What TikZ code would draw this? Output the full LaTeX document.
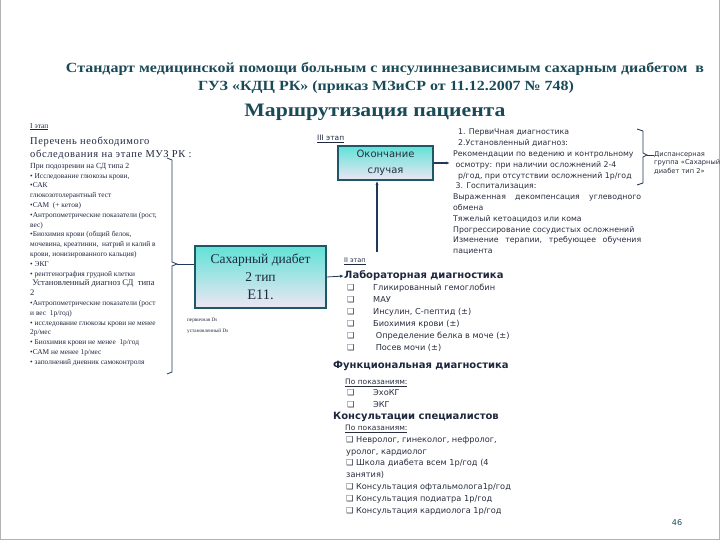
\documentclass[tikz,border=0pt]{standalone}
\usepackage{fontspec}
\setmainfont{Liberation Serif}
\newfontfamily\ttlfont[FakeStretch=1.14]{Liberation Serif}
\newfontfamily\vsans{DejaVu Sans}
\usetikzlibrary{positioning}
\usetikzlibrary{arrows.meta}

\definecolor{ttlteal}{RGB}{26,74,88}
\definecolor{inknavy}{RGB}{30,40,62}
\definecolor{inkgray}{RGB}{40,46,62}
\definecolor{linenavy}{RGB}{30,56,86}
\definecolor{boxtop}{RGB}{96,226,214}
\definecolor{boxmid}{RGB}{132,196,244}
\definecolor{boxbot}{RGB}{238,230,244}
\definecolor{boxedge}{RGB}{30,88,104}
\newcommand{\chkbox}{{\vsans ❑}}

\begin{document}
\begin{tikzpicture}[x=1pt, y=-1pt,
  ttl/.style = {text=ttlteal, inner sep=0, font=\ttlfont\bfseries\fontsize{14}{16}\selectfont},
  casebox/.style = {draw=boxedge, line width=1.6pt, top color=boxtop, middle color=boxmid, bottom color=boxbot, align=center, text=inknavy},
  plain/.style = {inner sep=0, anchor=north west, align=left, text=inknavy},
  hdr/.style = {inner sep=0, anchor=west, text=inknavy, font=\vsans\bfseries\fontsize{10}{12}\selectfont},
  stagelbl/.style = {inner sep=0, anchor=west, text=inknavy, font=\vsans\fontsize{6.5}{8}\selectfont},
  items/.style = {plain, text=inkgray, font=\vsans\fontsize{8.2}{11.9}\selectfont},
  conn/.style = {draw=linenavy, line width=0.8pt}]
\useasboundingbox (0,0) rectangle (720,540);
\draw[gray!60, line width=1pt] (0.5,0) -- (0.5,539.5) -- (719.5,539.5) -- (719.5,0);

% title
\node[ttl] (ttlA) at (385,69) {Стандарт медицинской помощи больным с инсулиннезависимым сахарным диабетом \ в};
\node[ttl] (ttlB) at (386,87) {ГУЗ «КДЦ РК» (приказ МЗиСР от 11.12.2007 № 748)};
\node[ttl, font=\ttlfont\bfseries\fontsize{19}{22}\selectfont] (route) at (375,112) {Маршрутизация пациента};

% I stage
\node[plain, font=\fontsize{7.5}{9}\selectfont] (stg1) at (30,123) {\underline{I этап}};
\node[plain, font=\addfontfeature{LetterSpace=6}\fontsize{10.5}{13}\selectfont] (need) at (30,137) {Перечень необходимого\\ обследования на этапе МУЗ РК :};
\node[plain, font=\fontsize{7.4}{9.8}\selectfont] (exam) at (30,163) {{\fontsize{7.8}{9.8}\selectfont При подозрении на СД типа 2}\\
• Исследование глюкозы крови,\\
•САК\\
глюкозотолерантный тест\\
•САМ \ (+ кетов)\\
•Антропометрические показатели (рост,\\
вес)\\
•Биохимия крови (общий белок,\\
мочевина, креатинин, \ натрий и калий в\\
крови, ионизированного кальция)\\
• ЭКГ\\
• рентгенография грудной клетки\\
{\fontsize{8.6}{9.8}\selectfont \ Установленный диагноз СД \ типа}\\
{\fontsize{8.6}{9.8}\selectfont 2}\\
•Антропометрические показатели (рост\\
и вес \ 1р/год)\\
• исследование глюкозы крови не менее\\
2р/мес\\
• Биохимия крови не менее \ 1р/год\\
•САМ не менее 1р/мес\\
• заполнений дневник самоконтроля};
\draw[conn] (167,158) -- (172,160) -- (172,262) -- (177,264) -- (172,266) -- (172,372) -- (167,374);
\coordinate (brL) at (177,264);

% diagnosis box
\node[casebox, minimum width=131pt, minimum height=62pt, font=\fontsize{13.5}{18}\selectfont] (sd) at (260.5,277) {Сахарный диабет\\2 тип\\{\fontsize{14.5}{18}\selectfont E11.}};
\draw[conn] (brL) -- (sd.west |- brL);
\node[plain, font=\fontsize{5.2}{11}\selectfont] (ds) at (187,318) {первичная Ds\\установленный Ds};

% III stage
\node[stagelbl, font=\vsans\fontsize{7.5}{9}\selectfont] (stg3) at (317,139) {\underline{III этап}};
\node[casebox, minimum width=95pt, minimum height=34pt, font=\vsans\fontsize{10}{16}\selectfont, text=inkgray] (endc) at (385.5,163) {Окончание\\случая};
\coordinate (upfoot) at (377,252);
\draw[conn, line width=1.2pt, -{Latex[length=4pt]}] (upfoot) -- (upfoot |- endc.south);
\coordinate (rtxt) at (450,163);
\draw[conn, line width=1.6pt, -{Latex[length=4pt]}] (endc.east) -- (rtxt);

\node[plain, text=inkgray, font=\vsans\fontsize{7.8}{10.8}\selectfont] (follow) at (453,129) {\ \ 1. ПервиЧная диагностика\\
\ \ 2.Установленный диагноз:\\
Рекомендации по ведению и контрольному\\
\ осмотру: при наличии осложнений 2-4\\
\ \ р/год, при отсутствии осложнений 1р/год\\
\ 3. Госпитализация:\\
\makebox[188pt][s]{Выраженная\hfill декомпенсация\hfill углеводного}\\
обмена\\
Тяжелый кетоацидоз или кома\\
Прогрессирование сосудистых осложнений\\
\makebox[188pt][s]{Изменение\hfill терапии,\hfill требующее\hfill обучения}\\
пациента};
\draw[conn] (637,129) -- (643,131) -- (643,153) -- (647,155) -- (643,157) -- (643,183) -- (637,185);
\coordinate (brR) at (647,155);
\node[plain, text=inkgray, font=\vsans\fontsize{6.7}{8.6}\selectfont] (disp) at (654,151) {Диспансерная\\группа «Сахарный\\диабет тип 2»};
\draw[conn] (brR) -- (disp.west |- brR);

% II stage
\node[stagelbl] (stg2) at (344,261) {\underline{II этап}};
\node[hdr] (lab) at (344,276) {Лабораторная диагностика};
\draw[conn, -{Latex[length=4pt]}] (sd.east) -- (lab.west);
\node[items] (labs) at (347,284) {\makebox[26pt][l]{\chkbox}Гликированный гемоглобин\\
\makebox[26pt][l]{\chkbox}МАУ\\
\makebox[26pt][l]{\chkbox}Инсулин, С-пептид (±)\\
\makebox[26pt][l]{\chkbox}Биохимия крови (±)\\
\makebox[26pt][l]{\chkbox}\ Определение белка в моче (±)\\
\makebox[26pt][l]{\chkbox}\ Посев мочи (±)};
\node[hdr] (func) at (333,366) {Функциональная диагностика};
\node[stagelbl, text=inkgray, font=\vsans\fontsize{7.5}{9}\selectfont] (ind1) at (345,383) {\underline{По показаниям:}};
\node[items] (funcs) at (347,389) {\makebox[26pt][l]{\chkbox}ЭхоКГ\\
\makebox[26pt][l]{\chkbox}ЭКГ};
\node[hdr] (cons) at (333,417) {Консультации специалистов};
\node[stagelbl, text=inkgray, font=\vsans\fontsize{7.5}{9}\selectfont] (ind2) at (345,429) {\underline{По показаниям:}};
\node[items] (conss) at (346,436) {\chkbox\ Невролог, гинеколог, нефролог,\\
уролог, кардиолог\\
\chkbox\ Школа диабета всем 1р/год (4\\
занятия)\\
\chkbox\ Консультация офтальмолога1р/год\\
\chkbox\ Консультация подиатра 1р/год\\
\chkbox\ Консультация кардиолога 1р/год};

\node[inner sep=0, text=ttlteal, font=\vsans\fontsize{8}{10}\selectfont] (pg) at (677,523) {46};
\end{tikzpicture}
\end{document}
